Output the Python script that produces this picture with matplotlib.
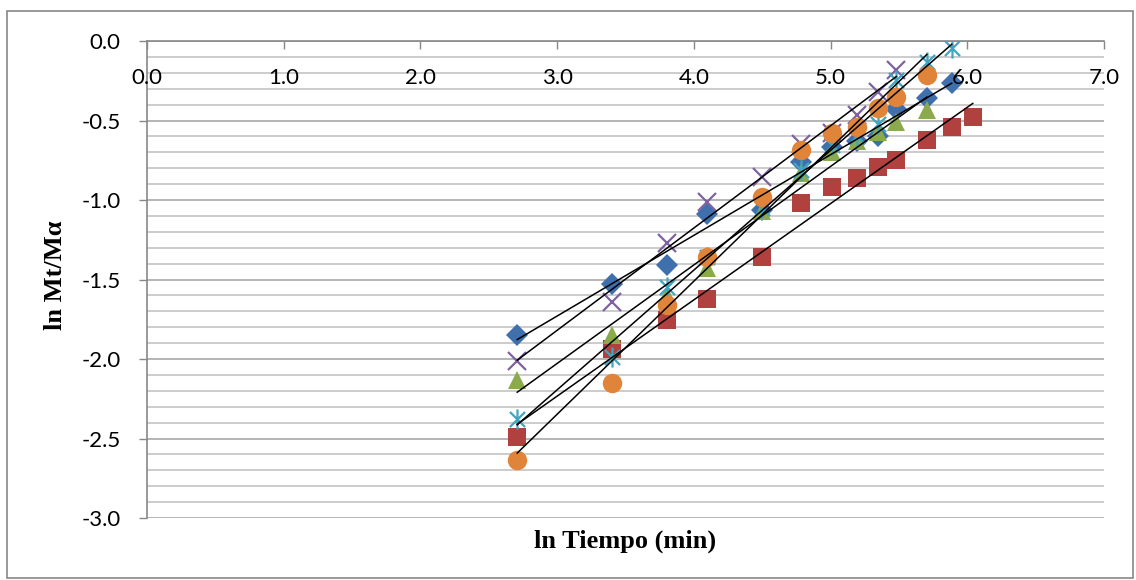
import numpy as np
import matplotlib.pyplot as plt
from matplotlib.path import Path
from matplotlib.patches import Rectangle

# ln(t) for the sampling times (min)
ln_t = [2.708, 3.401, 3.807, 4.094, 4.500, 4.787, 5.011, 5.193, 5.347, 5.481, 5.704, 5.886, 6.040]

s_blue = [-1.85, -1.53, -1.41, -1.09, -1.06, -0.76, -0.665, -0.63, -0.60, -0.43, -0.36, -0.265]
s_red = [-2.49, -1.94, -1.755, -1.62, -1.357, -1.017, -0.916, -0.86, -0.79, -0.75, -0.623, -0.54, -0.476]
s_green = [-2.13, -1.85, -1.60, -1.43, -1.07, -0.83, -0.70, -0.63, -0.57, -0.51, -0.434]
s_purple = [-2.01, -1.64, -1.27, -1.01, -0.853, -0.65, -0.58, -0.465, -0.32, -0.18]
s_cyan = [-2.38, -1.99, -1.545, -1.36, -1.05, -0.81, -0.654, -0.60, -0.52, -0.245, -0.13, -0.045]
s_orange = [-2.635, -2.15, -1.66, -1.357, -0.98, -0.686, -0.577, -0.54, -0.42, -0.35, -0.214]

x_ticks = [0.0, 1.0, 2.0, 3.0, 4.0, 5.0, 6.0, 7.0]
y_ticks = [0.0, -0.5, -1.0, -1.5, -2.0, -2.5, -3.0]

# excel-like asterisk: vertical bar + x
asterisk = Path([(0, -1), (0, 1), (-0.75, -0.75), (0.75, 0.75), (-0.75, 0.75), (0.75, -0.75)],
                [Path.MOVETO, Path.LINETO, Path.MOVETO, Path.LINETO, Path.MOVETO, Path.LINETO])

series = [
    (s_blue, 'D', 11, '#3F6FAD', True, 0),
    (s_red, 's', 13.5, '#B0413E', True, 0),
    (s_green, '^', 13.5, '#8BAA4B', True, 0),
    (s_purple, 'x', 13.5, '#7E62A0', False, 1.6),
    (s_cyan, asterisk, 14.5, '#3FA5C0', False, 1.6),
    (s_orange, 'o', 14, '#E0843A', True, 0),
]

plt.rcParams['font.family'] = ['Lato', 'DejaVu Sans']

fig = plt.figure(figsize=(11.36, 5.80), dpi=100)
ax = fig.add_axes([147 / 1136, 1 - 518 / 580, 957 / 1136, 477 / 580])

for ys, mk, ms, col, filled, mew in series:
    xs = ln_t[:len(ys)]
    if filled:
        ax.plot(xs, ys, ls='none', marker=mk, ms=ms, color=col, mec=col, mew=0, zorder=3)
    else:
        ax.plot(xs, ys, ls='none', marker=mk, ms=ms, color=col, mew=mew, zorder=3)

# linear trend lines over each series' range
for ys, *_ in series:
    xs = np.array(ln_t[:len(ys)])
    m, b = np.polyfit(xs, ys, 1)
    xl = np.array([xs.min(), xs.max()])
    ax.plot(xl, m * xl + b, color='black', lw=1.1, zorder=4)

ax.set_xlim(0, 7)
ax.set_ylim(-3, 0)
ax.set_yticks(y_ticks)
ax.set_yticks(np.arange(-3, 0.01, 0.1), minor=True)
ax.set_yticklabels(['%.1f' % v for v in y_ticks], fontsize=16)
ax.grid(axis='y', which='minor', color='#C4C4C4', lw=1.2, zorder=0)
ax.grid(axis='y', which='major', color='#A8A8A8', lw=1.2, zorder=0)
ax.set_axisbelow(True)
ax.tick_params(axis='y', which='major', direction='out', length=6, color='#888888', width=1, pad=13)
ax.tick_params(axis='y', which='minor', length=0)

# x axis crosses at y = 0 (top), labels just below it
ax.set_xticks(x_ticks)
ax.xaxis.tick_top()
ax.tick_params(axis='x', direction='in', length=6, color='#888888', width=1, labeltop=False)
for t in x_ticks:
    ax.text(t, -0.233, '%.1f' % t, ha='center', va='center', fontsize=16)

for side in ['right', 'bottom']:
    ax.spines[side].set_visible(False)
for side in ['left', 'top']:
    ax.spines[side].set_color('#888888')
    ax.spines[side].set_linewidth(1.2)

fig.text(625 / 1136, 1 - 541 / 580, 'ln Tiempo (min)', ha='center', va='center',
         fontsize=19, fontweight='bold', family='Liberation Serif')
fig.text(56 / 1136, 1 - 275 / 580, 'ln Mt/Mα', ha='center', va='center', rotation=90,
         fontsize=19, fontweight='bold', family='Liberation Serif')

fig.patches.append(Rectangle((7 / 1136, 2 / 580), 1126 / 1136, 567 / 580, transform=fig.transFigure,
                             fill=False, edgecolor='#888888', lw=1.2))

fig.savefig('out.png', dpi=100)
